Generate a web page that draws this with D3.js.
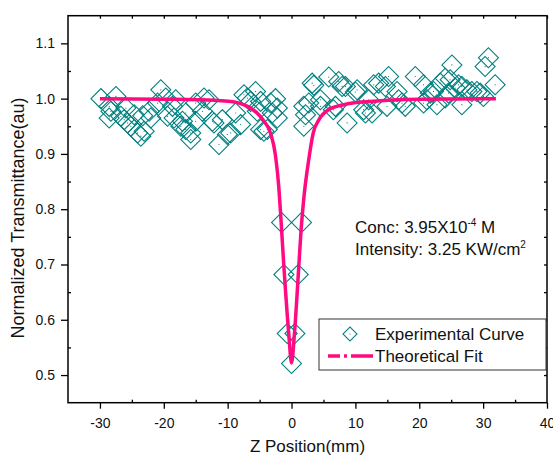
<!DOCTYPE html>
<html>
<head>
<meta charset="utf-8">
<script src="https://cdn.jsdelivr.net/npm/d3@7"></script>
<style>
  body { margin: 0; background: #fff; }
  svg text { font-family: "Liberation Sans", Arial, sans-serif; fill: #111; }
</style>
</head>
<body>
<div id="chart"></div>
<script>
// experimental z-scan points (z in mm, normalized transmittance)
var expZ = [-29.84, -28.55, -28.55, -28.28, -27.5, -26.72, -26.2, -25.94, -25.67, -25.16,
    -24.64, -24.11, -23.59, -23.3, -23.08, -22.3, -22.03, -20.98, -20.47, -19.69,
    -19.42, -18.64, -18.39, -18.13, -17.34, -17.08, -16.56, -16.56, -15.78, -15.78,
    -15.0, -15.0, -13.95, -13.7, -12.92, -12.39, -12.14, -11.36, -10.83, -10.05,
    -9.53, -8.75, -7.97, -7.45, -6.92, -6.41, -5.63, -5.36, -4.84, -4.84,
    -4.33, -3.8, -3.28, -3.02, -2.5, -2.23, -2.23,
    -1.56, -1.2, -0.67, 0, 0.52, 1.05, 1.56,
    1.92, 1.92, 2.19, 2.7, 3.23, 3.48, 4.53, 4.53, 5.83, 6.56,
    6.88, 7.39, 7.92, 8.44, 8.7, 10.0, 10.27, 11.3, 11.56, 12.08,
    12.61, 12.86, 13.64, 14.69, 14.95, 15.2, 16.52, 16.77, 17.3, 17.81,
    19.38, 20.67, 20.67, 21.2, 21.72, 22.23, 22.77, 23.28, 24.06, 24.06,
    24.58, 24.84, 25.11, 25.63, 26.14, 26.67, 26.67, 27.45, 28.23, 29.02,
    29.53, 30.05, 30.31, 30.83, 31.88];
var expT = [1.000, 0.965, 0.986, 0.977, 1.004, 0.968, 0.962, 0.983, 0.956, 0.950,
    0.971, 0.938, 0.932, 0.969, 0.941, 0.977, 0.965, 0.992, 1.016, 1.001,
    0.968, 0.986, 0.965, 0.998, 0.950, 0.959, 0.944, 0.974, 0.938, 0.926,
    0.959, 0.992, 0.977, 1.001, 0.998, 0.959, 0.956, 0.917, 0.962, 0.935,
    0.938, 0.974, 0.953, 1.007, 1.001, 0.995, 1.013, 0.977, 0.995, 0.944,
    0.941, 0.944, 0.992, 0.974, 1.000, 0.983, 0.965,
    0.776, 0.682, 0.575, 0.521, 0.575, 0.682, 0.776,
    0.986, 0.950, 0.971, 0.992, 1.028, 1.024, 0.998, 0.986, 1.039, 0.980,
    0.986, 1.031, 1.022, 1.022, 0.956, 1.012, 1.016, 0.980, 0.974, 0.998,
    0.974, 1.025, 1.028, 1.022, 0.986, 1.040, 1.013, 0.998, 0.992, 0.986,
    1.040, 1.025, 0.992, 0.998, 1.010, 1.013, 0.989, 1.028, 1.001, 1.037,
    1.010, 1.034, 1.061, 1.019, 1.025, 1.022, 0.989, 1.016, 1.013, 1.013,
    1.010, 1.004, 1.058, 1.074, 1.025];

// theoretical fit
var fitZ = [-30, -20, -12, -9.5, -6.9, -5.4, -4.3, -3.3, -2.5, -2.0, -1.7, -1.2, -0.45, 0,
    0.47, 1.14, 1.5, 1.9, 2.7, 3.4, 4.3, 5.8, 8.2, 12.3, 20, 32];
var fitT = [1.000, 0.999, 0.997, 0.995, 0.986, 0.974, 0.959, 0.938, 0.896, 0.841, 0.790, 0.697, 0.577, 0.522,
    0.577, 0.697, 0.763, 0.817, 0.890, 0.938, 0.962, 0.980, 0.989, 0.995, 0.999, 1.000];

var xTicks = [-30, -20, -10, 0, 10, 20, 30, 40];
var xMinor = [-25, -15, -5, 5, 15, 25, 35];
var yTicks = [0.5, 0.6, 0.7, 0.8, 0.9, 1.0, 1.1];
var yMinor = [0.55, 0.65, 0.75, 0.85, 0.95, 1.05];

var svgWidth = 553;
var svgHeight = 456;
var plot = { left: 68, top: 15.7, right: 547, bottom: 402.7 };

var tealColor = "#008080";
var pinkColor = "#ff0a80";

var svg = d3.select("#chart")
    .append("svg")
    .attr("width", svgWidth)
    .attr("height", svgHeight);

var xScale = d3.scaleLinear().domain([-35, 40]).range([plot.left, plot.right]);
var yScale = d3.scaleLinear().domain([0.45, 1.15]).range([plot.bottom, plot.top]);

function styleAxis(g) {
    g.select(".domain").remove();
    g.selectAll(".tick line").attr("stroke", "#000").attr("stroke-width", 1.3);
    g.selectAll(".tick text").style("font-size", "14px").attr("fill", "#111");
}

// bottom axis, major out / minor in (plain hyphen for negatives)
svg.append("g")
    .attr("transform", `translate(0, ${plot.bottom})`)
    .call(d3.axisBottom(xScale).tickValues(xTicks).tickSize(6).tickPadding(9).tickFormat(d => String(d)))
    .call(styleAxis);
svg.append("g")
    .attr("transform", `translate(0, ${plot.bottom})`)
    .call(d3.axisBottom(xScale).tickValues(xMinor).tickSize(-3).tickFormat(""))
    .call(styleAxis);

// left axis
svg.append("g")
    .attr("transform", `translate(${plot.left}, 0)`)
    .call(d3.axisLeft(yScale).tickValues(yTicks).tickSize(7).tickPadding(6).tickFormat(d => d.toFixed(1)))
    .call(styleAxis);
svg.append("g")
    .attr("transform", `translate(${plot.left}, 0)`)
    .call(d3.axisLeft(yScale).tickValues(yMinor).tickSize(-3).tickFormat(""))
    .call(styleAxis);

// top and right mirror ticks
svg.append("g")
    .attr("transform", `translate(0, ${plot.top})`)
    .call(d3.axisTop(xScale).tickValues(xTicks.concat(xMinor)).tickSize(-3).tickFormat(""))
    .call(styleAxis);
svg.append("g")
    .attr("transform", `translate(${plot.right}, 0)`)
    .call(d3.axisRight(yScale).tickValues(yTicks.concat(yMinor)).tickSize(-3).tickFormat(""))
    .call(styleAxis);

// frame
svg.append("rect")
    .attr("x", plot.left)
    .attr("y", plot.top)
    .attr("width", plot.right - plot.left)
    .attr("height", plot.bottom - plot.top)
    .attr("fill", "none")
    .attr("stroke", "#000")
    .attr("stroke-width", 1.5);

var expData = expZ.map((z, i) => ({ z: z, t: expT[i] }));
var fitData = fitZ.map((z, i) => ({ z: z, t: fitT[i] }));

// hollow diamonds
var diamond = d3.symbol().type(d3.symbolSquare).size(200);
var points = svg.append("g").selectAll("g")
    .data(expData)
    .enter()
    .append("g")
    .attr("transform", d => `translate(${xScale(d.z)}, ${yScale(d.t)})`);
points.append("path")
    .attr("d", diamond)
    .attr("transform", "rotate(45)")
    .attr("fill", "none")
    .attr("stroke", tealColor)
    .attr("stroke-width", 1.1);
points.append("circle")
    .attr("r", 0.6)
    .attr("fill", tealColor);

var fitLine = d3.line()
    .x(d => xScale(d.z))
    .y(d => yScale(d.t))
    .curve(d3.curveMonotoneX);

svg.append("path")
    .datum(fitData)
    .attr("d", fitLine)
    .attr("fill", "none")
    .attr("stroke", pinkColor)
    .attr("stroke-width", 3.5)
    .attr("stroke-linejoin", "round");

// annotation
var note1 = svg.append("text").attr("x", 355).attr("y", 233).style("font-size", "17px");
note1.append("tspan").text("Conc: 3.95X10");
note1.append("tspan").attr("dy", -7).style("font-size", "10px").text("-4");
note1.append("tspan").attr("dy", 7).text(" M");

var note2 = svg.append("text").attr("x", 355).attr("y", 254.5).style("font-size", "17px");
note2.append("tspan").text("Intensity: 3.25 KW/cm");
note2.append("tspan").attr("dy", -7).style("font-size", "10px").text("2");

// legend
var legend = svg.append("g");
legend.append("rect")
    .attr("x", 319)
    .attr("y", 319)
    .attr("width", 227)
    .attr("height", 51)
    .attr("fill", "#fff")
    .attr("stroke", "#333")
    .attr("stroke-width", 1);
legend.append("path")
    .attr("d", d3.symbol().type(d3.symbolSquare).size(98))
    .attr("transform", "translate(350, 334) rotate(45)")
    .attr("fill", "none")
    .attr("stroke", tealColor)
    .attr("stroke-width", 1.1);
legend.append("circle").attr("cx", 350).attr("cy", 334).attr("r", 0.6).attr("fill", tealColor);
legend.append("text").attr("x", 375).attr("y", 340).style("font-size", "17px").text("Experimental Curve");
legend.append("line")
    .attr("x1", 328).attr("x2", 373)
    .attr("y1", 356).attr("y2", 356)
    .attr("stroke", pinkColor)
    .attr("stroke-width", 3.5)
    .attr("stroke-dasharray", "12,4,3,4,30");
legend.append("text").attr("x", 375).attr("y", 362).style("font-size", "17px").text("Theoretical Fit");

// axis titles
svg.append("text")
    .attr("x", (plot.left + plot.right) / 2)
    .attr("y", 452)
    .attr("text-anchor", "middle")
    .style("font-size", "17px")
    .text("Z Position(mm)");

svg.append("text")
    .attr("transform", "rotate(-90)")
    .attr("x", -218)
    .attr("y", 24)
    .attr("text-anchor", "middle")
    .style("font-size", "18px")
    .text("Normalized Transmittance(au)");
</script>
</body>
</html>
